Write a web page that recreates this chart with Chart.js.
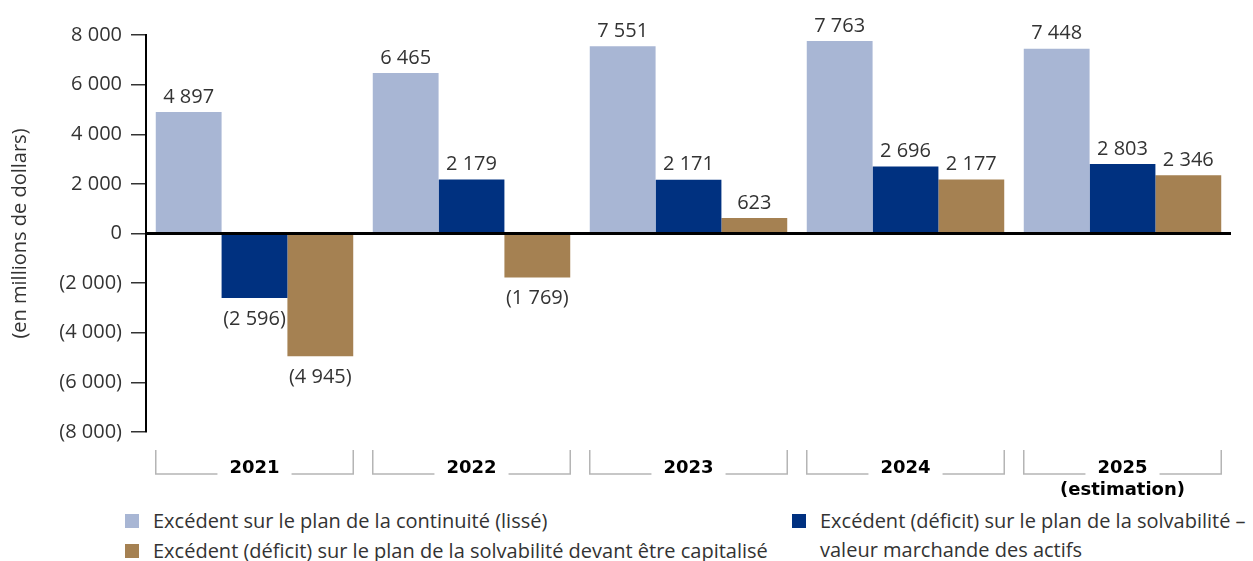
<!DOCTYPE html>
<html lang="fr">
<head>
<meta charset="utf-8">
<script src="https://cdn.jsdelivr.net/npm/chart.js@4/dist/chart.umd.min.js"></script>
<style>
  body { margin: 0; background: #fff; font-family: "Open Sans", sans-serif; }
  #wrap { position: relative; width: 1253px; height: 561px; }
  #chartBox { position: absolute; left: 0; top: 0; width: 1253px; height: 500px; }
  .legend-item { position: absolute; color: #333; font-size: 20px; line-height: 29px; white-space: nowrap; }
  .legend-item .swatch { position: absolute; left: 0; top: 8px; width: 14px; height: 14px; }
  .legend-item .text { position: absolute; left: 28px; top: 0; }
</style>
</head>
<body>
<div id="wrap">
  <div id="chartBox"><canvas id="surplusChart"></canvas></div>
  <div id="legend"></div>
</div>
<script>
const yearLabels = ["2021", "2022", "2023", "2024", ["2025", "(estimation)"]];
const continuiteValues = [4897, 6465, 7551, 7763, 7448];
const solvabiliteMarcheValues = [-2596, 2179, 2171, 2696, 2803];
const solvabiliteCapitaliseValues = [-4945, -1769, 623, 2177, 2346];
const yTicks = [-8000, -6000, -4000, -2000, 0, 2000, 4000, 6000, 8000];

const seriesNames = [
  "Excédent sur le plan de la continuité (lissé)",
  "Excédent (déficit) sur le plan de la solvabilité –<br>valeur marchande des actifs",
  "Excédent (déficit) sur le plan de la solvabilité devant être capitalisé"
];
const seriesColors = ["#a8b6d4", "#003180", "#a58152"];

const textFont = "\"Open Sans\", sans-serif";

function formatAmount(value) {
  const abs = Math.abs(Math.round(value)).toString().replace(/\B(?=(\d{3})+(?!\d))/g, "\u00a0");
  return value < 0 ? `(${abs})` : abs;
}

const barLabelsPlugin = {
  id: "barLabels",
  afterDatasetsDraw(chart) {
    const ctx = chart.ctx;
    ctx.save();
    ctx.font = `20px ${textFont}`;
    ctx.fillStyle = "#333";
    ctx.textAlign = "center";
    chart.data.datasets.forEach((ds, di) => {
      chart.getDatasetMeta(di).data.forEach((bar, i) => {
        const v = ds.data[i];
        if (v >= 0) {
          ctx.textBaseline = "bottom";
          ctx.fillText(formatAmount(v), bar.x, bar.y - 5);
        } else {
          ctx.textBaseline = "top";
          ctx.fillText(formatAmount(v), bar.x, bar.y + 11);
        }
      });
    });
    ctx.restore();
  }
};

const zeroLinePlugin = {
  id: "zeroLine",
  afterDatasetsDraw(chart) {
    const { ctx, chartArea, scales } = chart;
    const y0 = scales.y.getPixelForValue(0);
    ctx.save();
    ctx.strokeStyle = "#000";
    ctx.lineWidth = 3;
    ctx.beginPath();
    ctx.moveTo(chartArea.left, y0);
    ctx.lineTo(chartArea.right, y0);
    ctx.stroke();
    ctx.restore();
  }
};

const bracketPlugin = {
  id: "yearBrackets",
  afterDraw(chart) {
    const { ctx, chartArea, scales } = chart;
    const first = chart.getDatasetMeta(0).data;
    const last = chart.getDatasetMeta(chart.data.datasets.length - 1).data;
    const top = chartArea.bottom + 18;
    const bottom = chartArea.bottom + 42;
    ctx.save();
    ctx.font = `bold 18px "DejaVu Sans", sans-serif`;
    ctx.strokeStyle = "#b5b5b5";
    ctx.lineWidth = 1.5;
    yearLabels.forEach((label, i) => {
      const cx = scales.x.getPixelForValue(i);
      const left = first[i].x - first[i].width / 2;
      const right = last[i].x + last[i].width / 2;
      const mainText = Array.isArray(label) ? label[0] : label;
      const half = ctx.measureText(mainText).width / 2 + 12;
      ctx.beginPath();
      ctx.moveTo(left, top);
      ctx.lineTo(left, bottom);
      ctx.lineTo(cx - half, bottom);
      ctx.moveTo(cx + half, bottom);
      ctx.lineTo(right, bottom);
      ctx.lineTo(right, top);
      ctx.stroke();
    });
    ctx.restore();
  }
};

function buildLegend() {
  const legend = document.getElementById("legend");
  const spots = [
    { idx: 0, left: 125, top: 506 },
    { idx: 2, left: 125, top: 536 },
    { idx: 1, left: 792, top: 506 }
  ];
  spots.forEach(({ idx, left, top }) => {
    const item = document.createElement("div");
    item.className = "legend-item";
    item.style.left = `${left}px`;
    item.style.top = `${top}px`;
    item.innerHTML = `<span class="swatch" style="background:${seriesColors[idx]}"></span><span class="text">${seriesNames[idx]}</span>`;
    legend.appendChild(item);
  });
}

document.addEventListener("DOMContentLoaded", () => {
  new Chart(document.getElementById("surplusChart"), {
    type: "bar",
    data: {
      labels: yearLabels,
      datasets: [
        { label: "continuite", data: continuiteValues, backgroundColor: seriesColors[0] },
        { label: "marche", data: solvabiliteMarcheValues, backgroundColor: seriesColors[1] },
        { label: "capitalise", data: solvabiliteCapitaliseValues, backgroundColor: seriesColors[2] }
      ]
    },
    options: {
      responsive: true,
      maintainAspectRatio: false,
      animation: false,
      layout: { padding: { top: 35, right: 22, left: 0, bottom: 0 } },
      datasets: { bar: { categoryPercentage: 0.91, barPercentage: 1 } },
      plugins: { legend: { display: false }, tooltip: { enabled: false } },
      scales: {
        x: {
          grid: { display: false, drawTicks: false },
          border: { display: false },
          afterFit(scale) { scale.height = 68; },
          ticks: {
            padding: 25,
            color: "#000",
            maxRotation: 0,
            autoSkip: false,
            font: { family: "\"DejaVu Sans\", sans-serif", size: 18, weight: "bold", lineHeight: 1.25 }
          }
        },
        y: {
          min: -8000,
          max: 8000,
          afterFit(scale) { scale.width = 146; },
          afterBuildTicks(scale) { scale.ticks = yTicks.map((value) => ({ value })); },
          border: { display: true, color: "#000", width: 2 },
          grid: { drawOnChartArea: false, drawTicks: true, tickLength: 15, color: "#333", lineWidth: 1.5 },
          ticks: {
            padding: 9,
            color: "#333",
            font: { family: textFont, size: 20 },
            callback: (value) => formatAmount(value)
          },
          title: {
            display: true,
            text: "(en millions de dollars)",
            color: "#333",
            padding: { top: 8, bottom: 0 },
            font: { family: textFont, size: 20 }
          }
        }
      }
    },
    plugins: [barLabelsPlugin, zeroLinePlugin, bracketPlugin]
  });
  buildLegend();
});
</script>
</body>
</html>
